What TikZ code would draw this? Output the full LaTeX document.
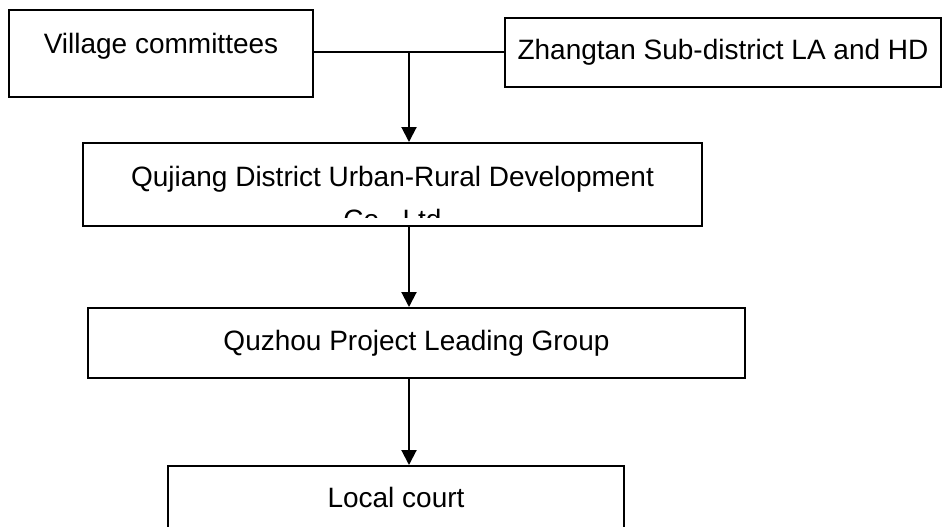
\documentclass[tikz,border=0pt]{standalone}
\usepackage{fontspec}
\setmainfont{Liberation Sans}
\usetikzlibrary{arrows.meta,positioning}

\begin{document}
\begin{tikzpicture}[
		x=0.5pt, y=-0.5pt,
		every node/.style={inner sep=0pt, font=\fontsize{14}{21.5}\selectfont},
		box/.style={rectangle, draw, line width=1pt, text height=10pt, text depth=3pt},
		link/.style={line width=1pt},
		flow/.style={line width=1pt, -{Triangle[width=7.5pt, length=7.5pt]}}
	]
  \useasboundingbox (0,0) rectangle (942,526);
  \node (village) [box, minimum width=152pt, minimum height=43.5pt, text depth=10pt] at (161,53.5) {Village committees};
  \node (zhangtan) [box, minimum width=218pt, minimum height=34.5pt] at (723,52.5) {Zhangtan Sub-district LA and HD};
  \node (qujiang) [box, minimum width=309.5pt, minimum height=41.5pt] at (392.5,184.5) {};
  \begin{scope}
    \clip (qujiang.north west) rectangle ([yshift=5pt]qujiang.south east);
    \node (qujiang_text) [below=12pt of qujiang.north, align=center] {Qujiang District Urban-Rural Development\\Co., Ltd};
  \end{scope}
  \node (quzhou) [box, minimum width=328.5pt, minimum height=35pt] at (416.5,343) {Quzhou Project Leading Group};
  \node (court) [box, minimum width=228pt, minimum height=34pt] at (396,500) {Local court};
  \coordinate (split) at (409,52);
  \draw [link] (village.east |- split) -- (zhangtan.west |- split);
  \draw [flow] (split) -- (split |- qujiang.north);
  \draw [flow] (split |- qujiang.south) -- (split |- quzhou.north);
  \draw [flow] (split |- quzhou.south) -- (split |- court.north);
\end{tikzpicture}
\end{document}
